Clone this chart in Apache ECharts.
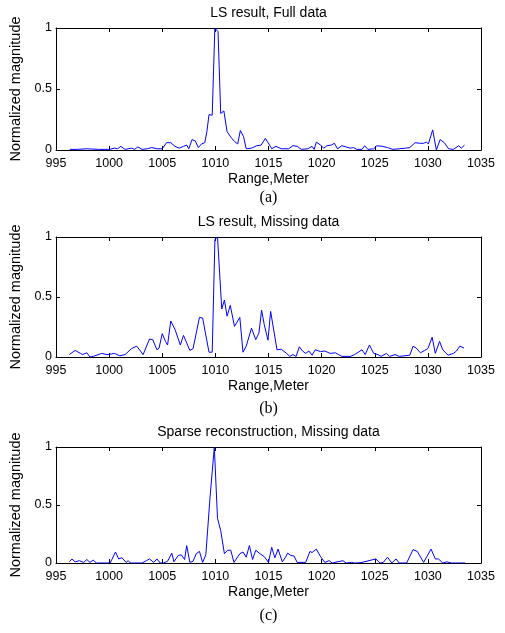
<!DOCTYPE html>
<html><head><meta charset="utf-8">
<script src="https://cdn.jsdelivr.net/npm/echarts@6/dist/echarts.min.js"></script>
<style>html,body{margin:0;padding:0;background:#fff}#c{width:505px;height:633px}</style>
</head><body><div id="c"></div>
<script>
const panelTitles = ["LS result, Full data", "LS result, Missing data", "Sparse reconstruction, Missing data"];
const captions = ["(a)", "(b)", "(c)"];
const xAxisName = "Range,Meter";
const yAxisName = "Normalized magnitude";
const xMin = 995, xMax = 1035, xStep = 5;
const yMin = 0, yMax = 1, yStep = 0.5;

const fullData = [
[996.3,0.005],[997,0.005],[997.9,0.01],[999,0.005],[1000,0.005],[1000.5,0.015],[1000.8,0.01],[1001.1,0.03],[1001.5,0.005],
[1002.1,0.015],[1002.4,0.005],[1002.7,0.025],[1003.1,0.005],[1003.6,0.01],[1004,0.02],[1004.5,0.01],[1005,0.01],
[1005.4,0.06],[1005.8,0.06],[1006.2,0.03],[1006.6,0.015],[1007,0.03],[1007.3,0.04],[1007.5,0.01],[1007.8,0.085],
[1008.1,0.075],[1008.4,0.02],[1008.7,0.05],[1009,0.06],[1009.2,0.15],[1009.4,0.29],[1009.7,0.285],[1009.95,1.0],
[1010.25,0.97],[1010.5,0.30],[1010.8,0.32],[1011.1,0.15],[1011.5,0.10],[1011.8,0.07],[1012.1,0.05],[1012.35,0.16],
[1012.65,0.11],[1012.9,0.01],[1013.4,0.015],[1013.9,0.035],[1014.3,0.04],[1014.7,0.095],[1015.1,0.04],[1015.3,0.01],
[1015.7,0.03],[1016.2,0.01],[1016.9,0.01],[1017.3,0.035],[1017.7,0.03],[1018.1,0.005],[1018.7,0.01],[1019.1,0.03],
[1019.3,0.005],[1019.5,0.065],[1019.9,0.04],[1020.2,0.015],[1020.5,0.035],[1020.9,0.04],[1021.2,0.055],[1021.5,0.01],
[1021.9,0.035],[1022.3,0.025],[1022.7,0.015],[1023,0.02],[1023.3,0.005],[1023.8,0.005],[1024.05,0.035],[1024.35,0.005],
[1024.9,0.01],[1025.2,0.035],[1025.7,0.03],[1026.2,0.02],[1026.7,0.005],[1027.3,0.01],[1027.9,0.015],[1028.3,0.02],
[1028.8,0.06],[1029.2,0.055],[1029.6,0.055],[1029.85,0.065],[1030.05,0.05],[1030.45,0.165],[1030.8,0.0],
[1031.15,0.085],[1031.55,0.06],[1031.95,0.01],[1032.4,0.005],[1032.9,0.035],[1033.15,0.015],[1033.45,0.04]
];

const missingData = [
[996.25,0.02],[996.8,0.055],[997.3,0.03],[997.5,0.02],[997.9,0.035],[998.2,0.0],[998.5,0.005],[999.3,0.03],[999.8,0.02],
[1000.2,0.025],[1000.5,0.03],[1001.0,0.01],[1001.5,0.02],[1002.1,0.07],[1002.6,0.09],[1003.2,0.02],[1003.8,0.15],
[1004.1,0.145],[1004.5,0.06],[1004.7,0.075],[1005.0,0.195],[1005.3,0.13],[1005.5,0.10],[1005.8,0.30],[1006.2,0.23],
[1006.7,0.10],[1007.0,0.18],[1007.6,0.055],[1007.9,0.07],[1008.5,0.33],[1008.8,0.325],[1009.4,0.04],[1009.7,0.04],
[1009.96,0.98],[1010.2,1.0],[1010.6,0.40],[1010.85,0.475],[1011.1,0.34],[1011.4,0.43],[1011.8,0.255],[1012.3,0.33],
[1012.6,0.04],[1012.9,0.09],[1013.4,0.24],[1013.8,0.145],[1014.1,0.20],[1014.35,0.39],[1014.6,0.27],[1014.95,0.14],
[1015.2,0.38],[1015.8,0.06],[1016.2,0.065],[1016.7,0.03],[1017.0,0.005],[1017.3,0.02],[1017.6,0.005],[1017.9,0.085],
[1018.2,0.05],[1018.5,0.03],[1018.8,0.05],[1019.1,0.015],[1019.4,0.06],[1019.9,0.045],[1020.3,0.05],[1020.8,0.03],
[1021.3,0.035],[1021.6,0.02],[1021.9,0.005],[1022.7,0.005],[1023.1,0.02],[1023.8,0.06],[1024.1,0.02],[1024.5,0.10],
[1024.9,0.03],[1025.3,0.02],[1025.6,0.005],[1026.1,0.03],[1026.4,0.005],[1026.9,0.02],[1027.3,0.005],[1028.3,0.015],
[1028.6,0.09],[1028.9,0.075],[1029.3,0.035],[1029.7,0.055],[1030.0,0.07],[1030.4,0.165],[1030.7,0.03],[1031.1,0.13],
[1031.4,0.06],[1031.9,0.015],[1032.4,0.03],[1032.7,0.05],[1033.0,0.09],[1033.4,0.075]
];

const sparseData = [
[996.25,0.01],[996.5,0.035],[996.8,0.01],[997.2,0.02],[997.6,0.005],[997.9,0.03],[998.2,0.005],[998.5,0.025],[998.8,0.0],
[1000.1,0.0],[1000.6,0.095],[1000.9,0.035],[1001.2,0.045],[1001.6,0.005],[1001.8,0.02],[1002.0,0.0],[1003.1,0.0],
[1003.5,0.02],[1003.8,0.035],[1004.2,0.005],[1004.5,0.035],[1004.8,0.0],[1005.1,0.0],[1005.5,0.015],[1005.9,0.085],
[1006.1,0.01],[1006.5,0.065],[1006.8,0.07],[1007.1,0.03],[1007.3,0.15],[1007.6,0.005],[1007.9,0.015],[1008.2,0.08],
[1008.5,0.10],[1008.8,0.005],[1009.1,0.07],[1009.5,0.57],[1009.9,1.0],[1010.2,0.385],[1010.5,0.28],[1010.85,0.08],
[1011.15,0.11],[1011.45,0.11],[1011.75,0.005],[1012.3,0.08],[1012.6,0.095],[1012.9,0.05],[1013.2,0.15],[1013.5,0.03],
[1013.8,0.11],[1014.2,0.08],[1014.6,0.055],[1015.0,0.005],[1015.3,0.135],[1015.6,0.045],[1015.9,0.12],[1016.3,0.01],
[1016.6,0.05],[1016.8,0.085],[1017.1,0.065],[1017.4,0.06],[1017.7,0.005],[1018.5,0.005],[1018.9,0.10],[1019.1,0.09],
[1019.5,0.12],[1019.9,0.055],[1020.3,0.005],[1020.7,0.02],[1021.0,0.0],[1022.0,0.02],[1022.3,0.0],[1022.8,0.005],
[1023.1,0.0],[1023.7,0.003],[1025.1,0.035],[1025.5,0.0],[1025.8,0.005],[1026.2,0.05],[1026.6,0.0],[1027.0,0.035],
[1027.3,0.0],[1028.0,0.0],[1028.6,0.115],[1029.0,0.10],[1029.6,0.005],[1029.9,0.055],[1030.3,0.12],[1030.7,0.035],
[1031.0,0.035],[1031.4,0.0],[1031.8,0.01],[1032.2,0.0],[1033.5,0.0]
];

const seriesData = [fullData, missingData, sparseData];

// layout (pixels)
const plotLeft = 56, plotWidth = 425;
const panels = [
  {top: 28, height: 122, titleY: 13, capY: 198},
  {top: 237, height: 120, titleY: 222, capY: 409},
  {top: 447, height: 116, titleY: 432, capY: 616}
];
const sans = "'Liberation Sans', Arial, Helvetica, sans-serif";
const serif = "'Liberation Serif', 'Times New Roman', serif";
const cx = plotLeft + plotWidth / 2;

const grids = [], xAxes = [], yAxes = [], series = [], graphics = [];
panels.forEach((p, i) => {
  grids.push({left: plotLeft, width: plotWidth, top: p.top, height: p.height, containLabel: false});
  const axLine = {show: true, onZero: false, lineStyle: {color: '#000', width: 1}};
  const tick = {show: true, inside: true, length: 4, lineStyle: {color: '#000', width: 1}};
  xAxes.push({type: 'value', gridIndex: i, position: 'bottom', min: xMin, max: xMax, interval: xStep,
    axisLine: axLine, axisTick: tick, splitLine: {show: false},
    axisLabel: {color: '#000', fontSize: 12.5, fontFamily: sans, margin: 7, showMinLabel: true, showMaxLabel: true,
      formatter: v => String(v)},
    name: xAxisName, nameLocation: 'middle', nameGap: 22,
    nameTextStyle: {color: '#000', fontSize: 14, fontFamily: sans}});
  xAxes.push({type: 'value', gridIndex: i, position: 'top', min: xMin, max: xMax, interval: xStep,
    axisLine: axLine, axisTick: tick, splitLine: {show: false}, axisLabel: {show: false}});
  yAxes.push({type: 'value', gridIndex: i, position: 'left', min: yMin, max: yMax, interval: yStep,
    axisLine: axLine, axisTick: tick, splitLine: {show: false},
    axisLabel: {color: '#000', fontSize: 12.5, fontFamily: sans, margin: 4, formatter: v => String(v)},
    name: yAxisName, nameLocation: 'middle', nameGap: 28, nameRotate: 90,
    nameTextStyle: {color: '#000', fontSize: 14.5, fontFamily: sans}});
  yAxes.push({type: 'value', gridIndex: i, position: 'right', min: yMin, max: yMax, interval: yStep,
    axisLine: axLine, axisTick: tick, splitLine: {show: false}, axisLabel: {show: false}});
  series.push({type: 'line', xAxisIndex: 2 * i, yAxisIndex: 2 * i, data: seriesData[i],
    showSymbol: false, symbol: 'none', lineStyle: {color: '#0000ff', width: 1}, animation: false, silent: true});
  graphics.push({type: 'text', x: cx, y: p.titleY,
    style: {text: panelTitles[i], font: '14px ' + sans, fill: '#000', textAlign: 'center', textVerticalAlign: 'middle', verticalAlign: 'middle'}});
  graphics.push({type: 'text', x: cx, y: p.capY,
    style: {text: captions[i], font: '16px ' + serif, fill: '#000', textAlign: 'center', textVerticalAlign: 'middle', verticalAlign: 'middle'}});
});

const chart = echarts.init(document.getElementById('c'), null, {renderer: 'canvas'});
chart.setOption({
  animation: false,
  backgroundColor: '#fff',
  grid: grids, xAxis: xAxes, yAxis: yAxes, series: series, graphic: graphics
});
</script></body></html>
